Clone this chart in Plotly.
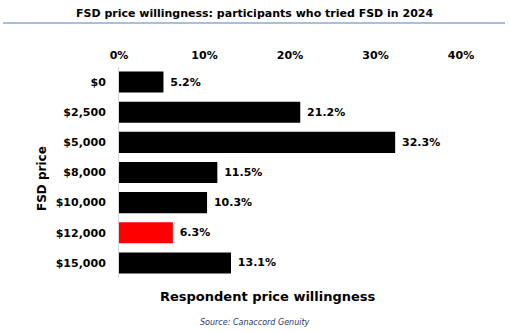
import plotly.graph_objects as go

categories = ["$0", "$2,500", "$5,000", "$8,000", "$10,000", "$12,000", "$15,000"]
values = [5.2, 21.2, 32.3, 11.5, 10.3, 6.3, 13.1]
colors = ["#000000", "#000000", "#000000", "#000000", "#000000", "#FF0000", "#000000"]
tick_vals = [0, 10, 20, 30, 40]
tick_text = ["0%", "10%", "20%", "30%", "40%"]

FONT = "Verdana, DejaVu Sans, sans-serif"

L, R, T, B = 119, 49, 67, 54
W, H = 510, 332
pw, ph = W - L - R, H - T - B

def px_x(px):
    return (px - L) / pw

def px_y(py):
    return (H - B - py) / ph

fig = go.Figure()
fig.add_trace(go.Bar(
    x=values, y=categories, orientation="h",
    marker=dict(color=colors, line=dict(width=0)),
    width=0.7,
    text=[f"\u00a0{v:.1f}%" for v in values],
    textposition="outside",
    textfont=dict(family=FONT, size=11, color="#000000", weight="bold"),
    cliponaxis=False,
))

fig.update_layout(
    width=W, height=H,
    margin=dict(l=L, r=R, t=T, b=B),
    paper_bgcolor="white", plot_bgcolor="white",
    showlegend=False,
    font=dict(family=FONT, color="#000000"),
    xaxis=dict(
        range=[0, 40], side="top", tickvals=tick_vals, ticktext=tick_text,
        showgrid=False, zeroline=False, showline=False, ticks="",
        ticklabelstandoff=5,
        tickfont=dict(family=FONT, size=11, color="#000000", weight="bold"),
    ),
    yaxis=dict(
        categoryorder="array", categoryarray=categories, autorange="reversed",
        showgrid=False, zeroline=False, showline=True, linecolor="#D9D9D9", linewidth=1,
        ticks="", ticklabelstandoff=10,
        tickfont=dict(family=FONT, size=11, color="#000000", weight="bold"),
    ),
    bargap=0.3,
)

fig.add_annotation(
    text="<b>FSD price willingness: participants who tried FSD in 2024</b>",
    xref="paper", yref="paper", x=px_x(254), y=px_y(14),
    showarrow=False, font=dict(family=FONT, size=11, color="#000000"),
    xanchor="center", yanchor="middle",
)
fig.add_shape(type="line", xref="paper", yref="paper",
              x0=px_x(3), x1=px_x(505), y0=px_y(23), y1=px_y(23),
              line=dict(color="#4F81BD", width=1))
fig.add_annotation(
    text="<b>Respondent price willingness</b>",
    xref="paper", yref="paper", x=px_x(268), y=px_y(296),
    showarrow=False, font=dict(family=FONT, size=13, color="#000000"),
    xanchor="center", yanchor="middle",
)
fig.add_annotation(
    text="<b>FSD price</b>",
    xref="paper", yref="paper", x=px_x(42), y=px_y(179),
    showarrow=False, textangle=-90, font=dict(family=FONT, size=12, color="#000000"),
    xanchor="center", yanchor="middle",
)
fig.add_annotation(
    text="<i>Source: Canaccord Genuity</i>",
    xref="paper", yref="paper", x=px_x(255), y=px_y(322),
    showarrow=False, font=dict(family=FONT, size=8, color="#1F3864"),
    xanchor="center", yanchor="middle",
)

fig.write_html("out.html")
